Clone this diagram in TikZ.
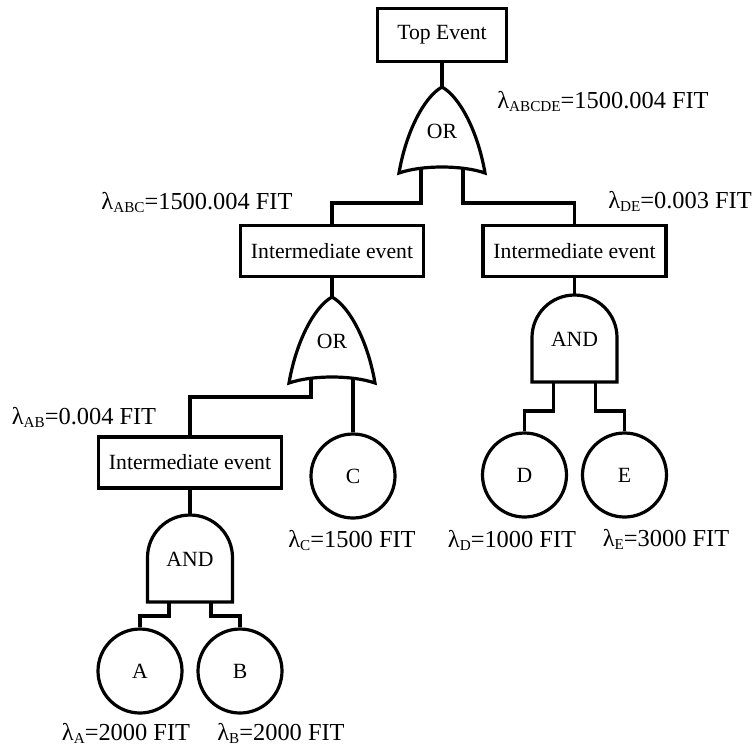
\documentclass[tikz,border=0pt]{standalone}
\usepackage{fontspec}
\setmainfont{Liberation Serif}
\usepackage{tikz}

\newcommand{\lam}[1]{λ\raisebox{-0.35ex}{\fontsize{7.6pt}{8pt}\selectfont #1}}

\tikzset{
    wire/.style={line width=1.6pt},
    event/.style={draw, wire, minimum width=91.5pt, minimum height=25.5pt, inner sep=0pt},
    basic/.style={draw, circle, wire, minimum size=42pt, inner sep=0pt},
    rate/.style={anchor=base, font=\fontsize{12.2pt}{14pt}\selectfont},
    orgate/.pic={
        \draw[wire] (0,0) .. controls (-18,10) and (-36,45) .. (-43,86)
            .. controls (-20,78) and (20,78) .. (43,86)
            .. controls (36,45) and (18,10) .. cycle;
        \node at (0,44) {OR};
        \coordinate (-top) at (0,0);
        \coordinate (-l) at (-21,81);
        \coordinate (-r) at (21,81);
    },
    andgate/.pic={
        \draw[wire] (-42.5,87) -- (-42.5,42.5)
            .. controls (-42.5,19) and (-23.5,0) .. (0,0)
            .. controls (23.5,0) and (42.5,19) .. (42.5,42.5) -- (42.5,87) -- cycle;
        \node at (0,44) {AND};
        \coordinate (-top) at (0,0);
        \coordinate (-l) at (-21,87);
        \coordinate (-r) at (21,87);
    },
}

\begin{document}
\begin{tikzpicture}[x=0.5pt, y=-0.5pt, font=\fontsize{10.85pt}{13pt}\selectfont]
\useasboundingbox (0,0) rectangle (755,746);

% events
\node[event, minimum width=64.5pt, minimum height=26.5pt] (top) at (442,35) {Top Event};
\node[event] (ie1) at (332,251) {Intermediate event};
\node[event] (ie2) at (574.5,251) {Intermediate event};
\node[event] (ie3) at (190,462.5) {Intermediate event};

% gates
\pic (or1) at (442,87) {orgate};
\pic (or2) at (332,297) {orgate};
\pic (and1) at (190,515) {andgate};
\pic (and2) at (574.5,295) {andgate};

% basic events
\node[basic] (C) at (353,476) {C};
\node[basic] (D) at (524.5,475) {D};
\node[basic] (E) at (624.5,475) {E};
\node[basic] (A) at (140,671) {A};
\node[basic] (B) at (240,671) {B};

% connections
\draw[wire] (top.south) -- (or1-top);
\draw[wire] (or1-l) -- ++(0,35) -| (ie1.north);
\draw[wire] (or1-r) -- ++(0,35) -| (ie2.north);
\draw[wire] (ie1.south) -- (or2-top);
\draw[wire] (or2-l) -- ++(0,19) -| (ie3.north);
\draw[wire] (or2-r) -- (C.north);
\draw[wire] (ie3.south) -- (and1-top);
\draw[wire] (and1-l) -- ++(0,14) -| (A.north);
\draw[wire] (and1-r) -- ++(0,14) -| (B.north);
\draw[wire] (ie2.south) -- (and2-top);
\draw[wire] (and2-l) -- ++(0,29) -| (D.north);
\draw[wire] (and2-r) -- ++(0,29) -| (E.north);

% failure rates
\node[rate] (rABCDE) at (603,108) {\lam{ABCDE}=1500.004 FIT};
\node[rate] (rABC) at (197,209) {\lam{ABC}=1500.004 FIT};
\node[rate] (rDE) at (680,208) {\lam{DE}=0.003 FIT};
\node[rate] (rAB) at (84,424) {\lam{AB}=0.004 FIT};
\node[rate] (rC) at (352,547) {\lam{C}=1500 FIT};
\node[rate] (rD) at (512,547) {\lam{D}=1000 FIT};
\node[rate] (rE) at (666,546) {\lam{E}=3000 FIT};
\node[rate] (rA) at (126,740) {\lam{A}=2000 FIT};
\node[rate] (rB) at (281,740) {\lam{B}=2000 FIT};
\end{tikzpicture}
\end{document}
